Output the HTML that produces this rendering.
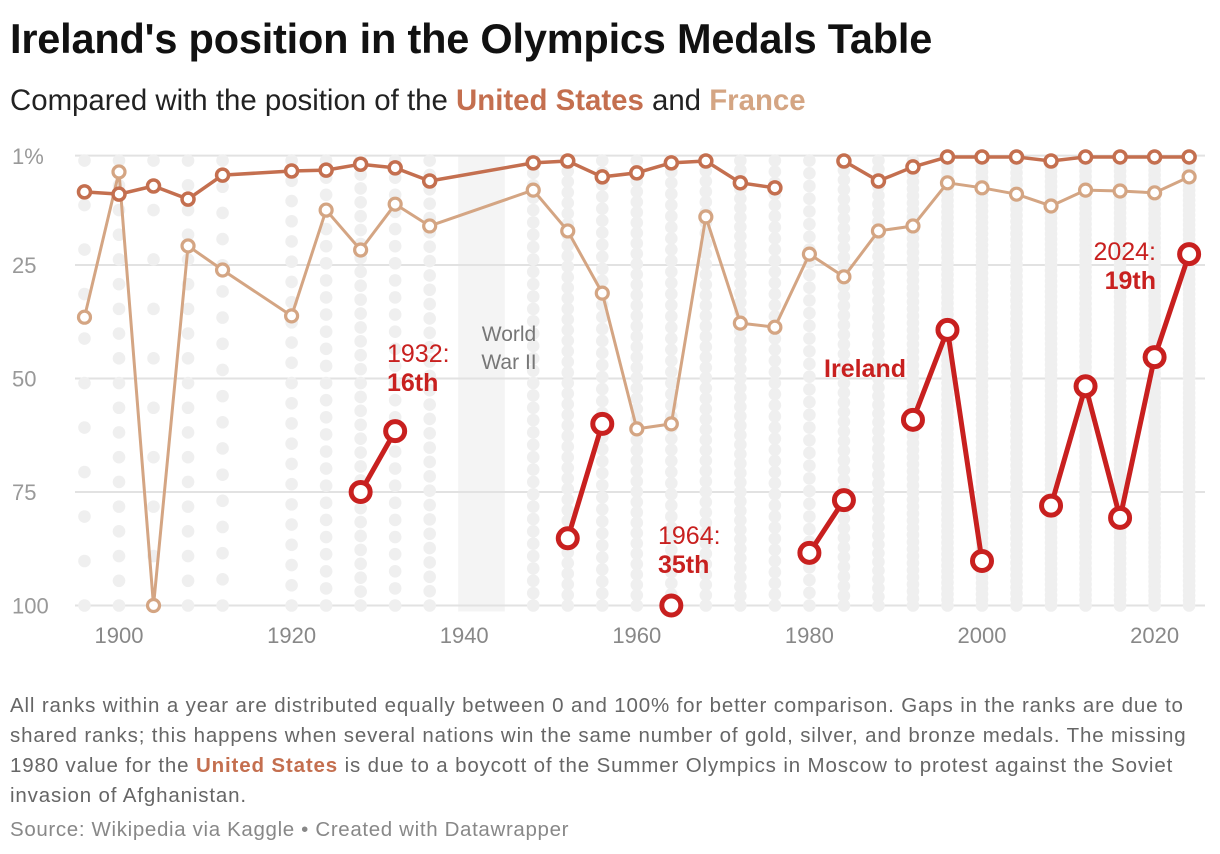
<!DOCTYPE html>
<html><head><meta charset="utf-8"><style>
body{margin:0;background:#fff;width:1220px;height:854px;overflow:hidden;font-family:"Liberation Sans",sans-serif}
h1{position:absolute;left:10px;top:15px;margin:0;font-size:41.5px;font-weight:bold;color:#111;letter-spacing:-0.2px}
.sub{position:absolute;left:10px;top:84px;font-size:29.4px;color:#222}
.us{color:#c46f4f;font-weight:bold}.fr{color:#d4a583;font-weight:bold}
.note{position:absolute;left:10px;top:691px;width:1210px;font-size:20.5px;line-height:30px;color:#666;letter-spacing:0.85px;white-space:nowrap}
.src{position:absolute;left:10px;top:818px;font-size:20.5px;color:#888;letter-spacing:0.65px}
svg{position:absolute;left:0;top:0}
</style></head><body>
<h1>Ireland's position in the Olympics Medals Table</h1>
<div class="sub">Compared with the position of the <span class="us">United States</span> and <span class="fr">France</span></div>
<svg id="chart" width="1220" height="680"></svg>
<div class="note">All ranks within a year are distributed equally between 0 and 100% for better comparison. Gaps in the ranks are due to<br>shared ranks; this happens when several nations win the same number of gold, silver, and bronze medals. The missing<br>1980 value for the <span class="us">United States</span> is due to a boycott of the Summer Olympics in Moscow to protest against the Soviet<br>invasion of Afghanistan.</div>
<div class="src">Source: Wikipedia via Kaggle • Created with Datawrapper</div>
<script>
const years=[1896,1900,1904,1908,1912,1920,1924,1928,1932,1936,1948,1952,1956,1960,1964,1968,1972,1976,1980,1984,1988,1992,1996,2000,2004,2008,2012,2016,2020,2024];
const nationCounts=[11,19,10,19,18,23,27,33,27,32,37,43,38,44,41,44,48,41,36,47,52,64,79,80,74,86,85,86,93,91];
const usValues=[8.9,9.4,7.6,10.5,5.2,4.3,4.1,2.8,3.6,6.5,2.5,2.1,5.6,4.7,2.5,2.1,6.9,8,null,2.1,6.5,3.4,1.2,1.2,1.2,2.1,1.2,1.2,1.2,1.2];
const frValues=[36.5,4.5,100,20.8,26.1,36.2,12.9,21.7,11.6,16.4,8.5,17.5,31.2,61.1,60,14.4,37.8,38.7,22.6,27.6,17.5,16.4,6.9,8,9.4,12,8.5,8.7,9.1,5.6];
const ieValues=[null,null,null,null,null,null,null,75,61.6,null,null,85.2,60,null,100,null,null,null,88.4,76.8,null,59.1,39.3,90.2,null,78,51.7,80.7,45.3,22.6];
const yTicks=[1,25,50,75,100];
const yTickLabels=["1%","25","50","75","100"];
const xTicks=[1900,1920,1940,1960,1980,2000,2020];

const NS="http://www.w3.org/2000/svg";
const svg=document.getElementById('chart');
const x=yr=>119+(yr-1900)*8.63;
const y=v=>151.5+v*4.54;
function el(t,a,p){const e=document.createElementNS(NS,t);for(const k in a)e.setAttribute(k,a[k]);(p||svg).appendChild(e);return e;}

const band=el('rect',{x:x(1939.3),y:156,width:x(1944.7)-x(1939.3),height:y(100)-156+6,fill:'#f4f4f4'});


yTicks.forEach((t,i)=>{
  const g=el('line',{x1:75,x2:1205,y1:y(t===1?0.9:t),y2:y(t===1?0.9:t),stroke:'#e2e2e2','stroke-width':2});
  
  
  const tx=el('text',{x:12,y:y(t)+8,'font-size':22,fill:'#999'});
  tx.textContent=yTickLabels[i];
  
  
});
xTicks.forEach(t=>{
  const tx=el('text',{x:x(t),y:643,'font-size':22,fill:'#888','text-anchor':'middle'});
  tx.textContent=t;
  
  
});
years.forEach((yr,i)=>{
  const n=nationCounts[i];
  for(let k=0;k<n;k++){
    const d=el('circle',{cx:x(yr),cy:y(2+k/(n-1)*98),r:6.3,fill:'#efefef'});
    
    
  }
});
const w1=el('text',{x:509,y:341,'font-size':21,fill:'#777','text-anchor':'middle'});w1.textContent='World';


const w2=el('text',{x:509,y:369,'font-size':21,fill:'#777','text-anchor':'middle'});w2.textContent='War II';



function series(vals,color,sw,r,cw,name){
  let d='',pen=false;
  vals.forEach((v,i)=>{
    if(v===null){pen=false;return;}
    d+=(pen?'L':'M')+x(years[i])+','+y(v);pen=true;
  });
  const p=el('path',{d:d,fill:'none',stroke:color,'stroke-width':sw,'stroke-linejoin':'round'});
  
  
  vals.forEach((v,i)=>{
    if(v===null)return;
    const c=el('circle',{cx:x(years[i]),cy:y(v),r:r,fill:'#fff',stroke:color,'stroke-width':cw});
    
    
  });
}
series(frValues,'#d4a583',3,6,3.2,'france');
series(usValues,'#c46f4f',3.5,6,3.5,'united-states');
series(ieValues,'#c8201f',5,9.5,5,'ireland');

function label(xx,yy,lines,anchor,name){
  lines.forEach((l,i)=>{
    const t=el('text',{x:xx,y:yy+i*29,'font-size':25,fill:'#c8201f','font-weight':l[1]?'bold':'normal','text-anchor':anchor||'start'});
    t.textContent=l[0];
    
    
  });
}
label(387,362,[['1932:',0],['16th',1]],'start','annotation-1932');
label(658,544,[['1964:',0],['35th',1]],'start','annotation-1964');
label(1156,260,[['2024:',0],['19th',1]],'end','annotation-2024');
label(906,377,[['Ireland',1]],'end','ireland-label');
</script>
</body></html>
